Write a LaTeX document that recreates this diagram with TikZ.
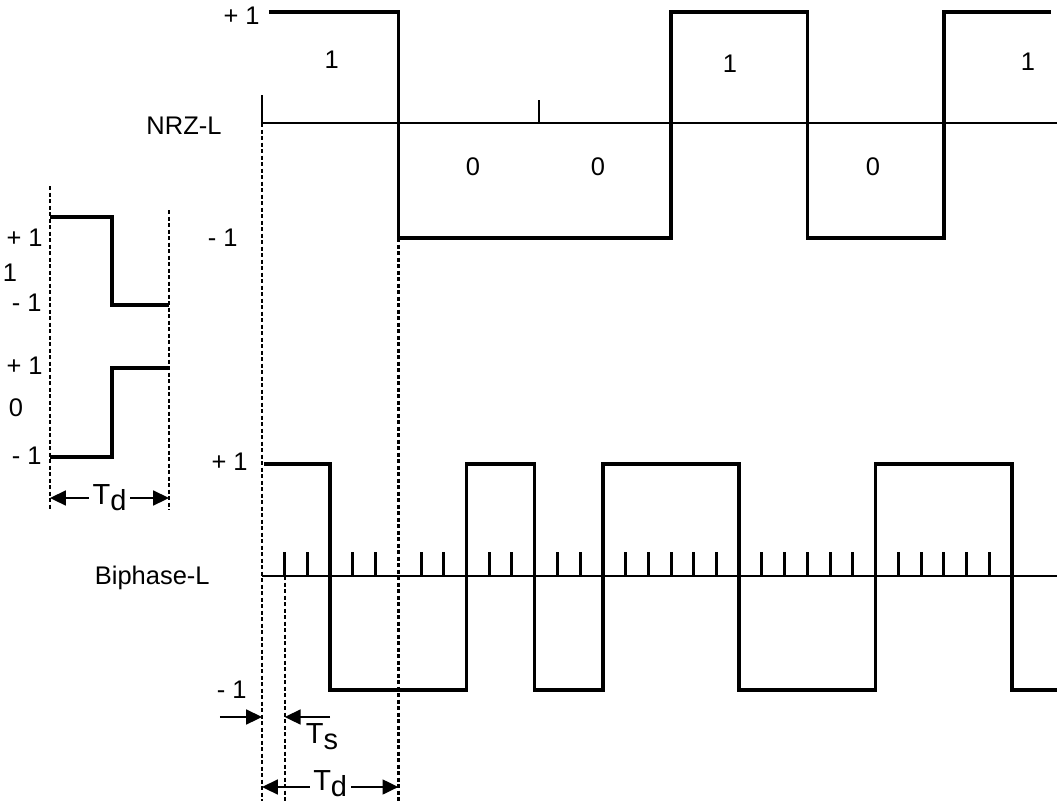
\documentclass[tikz,border=0pt]{standalone}
\usepackage{fontspec}
\setmainfont{Liberation Sans}
\usetikzlibrary{arrows.meta}
\tikzset{
  sig/.style={line width=2pt, line join=miter},
  axis/.style={line width=1.1pt},
  tck/.style={line width=1.7pt},
  guide/.style={line width=1.4pt, dash pattern=on 2.4pt off 1.3pt},
  dimarr/.style={line width=1pt, {Triangle[length=9pt,width=8.5pt]}-{Triangle[length=9pt,width=8.5pt]}},
  inarr/.style={line width=1pt, -{Triangle[length=9pt,width=8.5pt]}},
  lab/.style={font=\fontsize{14.5}{16}\selectfont, inner sep=0pt},
  dimlab/.style={font=\fontsize{16.5}{18}\selectfont, inner sep=0pt, fill=white, inner xsep=2pt}
}
\newcommand{\Tsub}[1]{T\raisebox{-0.4ex}{#1}}

\begin{document}
\begin{tikzpicture}[x=0.02cm, y=-0.02cm]
  \useasboundingbox (0,0) rectangle (1061,801);
  % level labels
  \node[lab, anchor=east] (nhi) at (260,16) {+ 1};
  \node[lab, anchor=east] (nlo) at (238,238) {- 1};
  \node[lab] (nname) at (184,126) {NRZ-L};
  \node[lab, anchor=east] (bhi) at (248,462) {+ 1};
  \node[lab, anchor=east] (blo) at (247,690) {- 1};
  \node[lab, anchor=east] (bname) at (210,578) {Biphase-L};
  % one bit period, in Ts units
  \begin{scope}[shift={(262,0)}, x=0.4546cm]
    % NRZ-L
    \draw[axis] (0,123) -- (35,123);
    \draw[axis] (0,95) -- (0,123);
    \draw[axis] (12.2,100) -- (12.2,123);
    \draw[sig] (0.3,12) -- (6,12) -- (6,238) -- (18,238) -- (18,12)
      -- (24,12) -- (24,238) -- (30,238) -- (30,12) -- (34.7,12);
    \node[lab] (b1) at (3.07,60) {1};
    \node[lab] (b2) at (9.28,167) {0};
    \node[lab] (b3) at (14.78,167) {0};
    \node[lab] (b4) at (20.59,64) {1};
    \node[lab] (b5) at (26.88,167) {0};
    \node[lab] (b6) at (33.70,62) {1};
    % Biphase-L
    \draw[axis] (0,576) -- (35,576);
    \foreach \k in {1,2,4,5,7,8,10,11,13,14,16,17,...,20,22,23,...,26,28,29,...,32}
      \draw[tck] (\k,552) -- (\k,576);
    \draw[sig] (0.1,464) -- (3,464) -- (3,690) -- (9,690) -- (9,464)
      -- (12,464) -- (12,690) -- (15,690) -- (15,464) -- (21,464)
      -- (21,690) -- (27,690) -- (27,464) -- (33,464) -- (33,690) -- (35,690);
    % guides and timing
    \draw[guide] (0,123) -- (0,801);
    \draw[guide] (1,576) -- (1,801);
    \draw[guide] (6,238) -- (6,801);
    \coordinate (sl) at (-1.85,717);
    \coordinate (s0) at (0,717);
    \coordinate (s1) at (1,717);
    \coordinate (sr) at (3,717);
    \draw[inarr] (sl) -- (s0);
    \draw[inarr] (sr) -- (s1);
    \node[dimlab, fill=none] (tslab) at (2.64,737) {\Tsub{s}};
    \coordinate (d0) at (0,787);
    \coordinate (d1) at (6,787);
    \draw[dimarr] (d0) -- node[dimlab, yshift=2pt] (tdlab) {\Tsub{d}} (d1);
  \end{scope}
  % legend: one period of each bit
  \draw[guide] (50,186) -- (50,510);
  \draw[guide] (169,210) -- (169,510);
  \draw[sig] (50,217) -- (112,217) -- (112,305) -- (169,305);
  \draw[sig] (169,368) -- (112,368) -- (112,457) -- (50,457);
  \node[lab, anchor=east] (lhi1) at (43,238) {+ 1};
  \node[lab] (lone) at (10,273) {1};
  \node[lab, anchor=east] (llo1) at (42,303) {- 1};
  \node[lab, anchor=east] (lhi0) at (43,366) {+ 1};
  \node[lab] (lzero) at (16,408) {0};
  \node[lab, anchor=east] (llo0) at (42,456) {- 1};
  \coordinate (ld0) at (50,498);
  \coordinate (ld1) at (169,498);
  \draw[dimarr] (ld0) -- node[dimlab] (ltd) {\Tsub{d}} (ld1);
\end{tikzpicture}
\end{document}
